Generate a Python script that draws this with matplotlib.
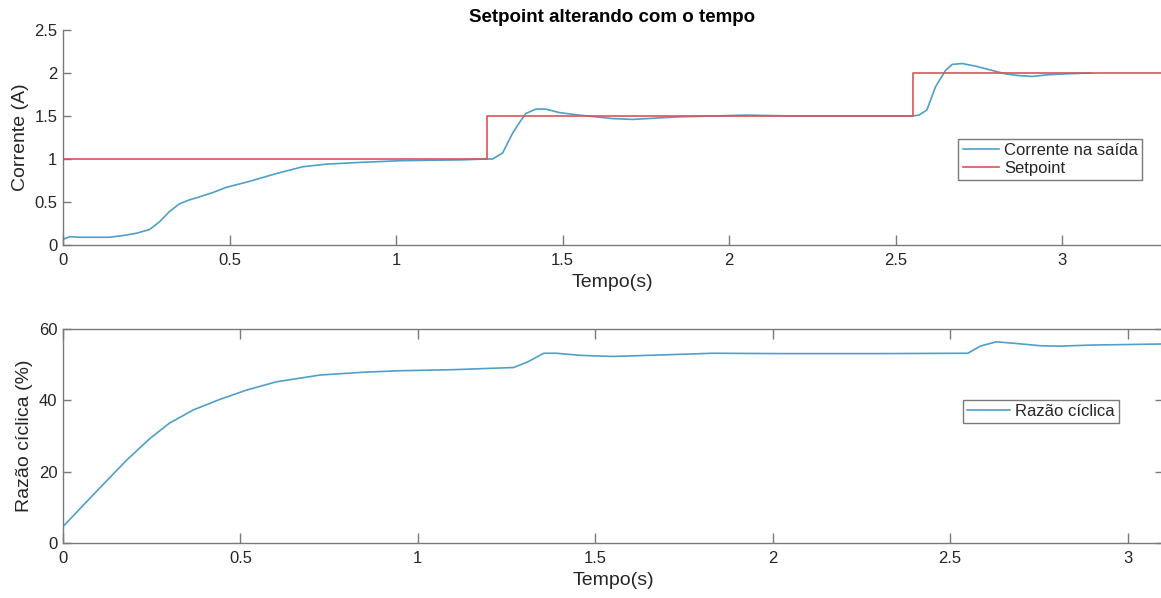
import matplotlib
matplotlib.use("Agg")
import matplotlib.pyplot as plt

plt.rcParams['font.family'] = ['Liberation Sans', 'DejaVu Sans']

# ---- data ----
cur_t = [0, 0.021, 0.05, 0.10, 0.14, 0.18, 0.22, 0.26, 0.29, 0.32, 0.35, 0.38, 0.41,
         0.45, 0.49, 0.56, 0.64, 0.72, 0.79, 0.89, 1.01, 1.10, 1.20, 1.27, 1.29, 1.32,
         1.35, 1.37, 1.39, 1.42, 1.45, 1.49, 1.55, 1.60, 1.65, 1.71, 1.80, 1.85, 1.95,
         2.05, 2.20, 2.40, 2.55, 2.57, 2.594, 2.62, 2.65, 2.67, 2.70, 2.74, 2.79, 2.83,
         2.87, 2.91, 2.96, 3.01, 3.085]
cur_v = [0.066, 0.097, 0.09, 0.09, 0.09, 0.11, 0.136, 0.18, 0.27, 0.39, 0.48, 0.525, 0.56,
         0.61, 0.67, 0.74, 0.83, 0.91, 0.94, 0.96, 0.98, 0.985, 0.99, 1.0, 1.0, 1.07,
         1.30, 1.42, 1.53, 1.58, 1.58, 1.54, 1.51, 1.49, 1.47, 1.46, 1.48, 1.49, 1.50,
         1.51, 1.50, 1.50, 1.50, 1.51, 1.57, 1.84, 2.03, 2.10, 2.11, 2.08, 2.03, 1.99,
         1.97, 1.96, 1.98, 1.99, 2.0]

sp_t = [0, 1.274, 2.551, 3.3]
sp_v = [1.0, 1.5, 2.0, 2.0]

duty_t = [0, 0.085, 0.18, 0.245, 0.30, 0.367, 0.443, 0.518, 0.602, 0.725, 0.85, 0.95,
          1.10, 1.27, 1.31, 1.355, 1.39, 1.46, 1.55, 1.74, 1.83, 2.02, 2.30, 2.55,
          2.585, 2.63, 2.68, 2.755, 2.81, 2.90, 3.1]
duty_v = [4.6, 13.5, 23.3, 29.3, 33.6, 37.3, 40.3, 42.9, 45.2, 47.1, 47.9, 48.3,
          48.6, 49.2, 50.8, 53.2, 53.2, 52.6, 52.3, 52.9, 53.2, 53.1, 53.1, 53.2,
          55.2, 56.4, 56.0, 55.3, 55.2, 55.5, 55.8]

top_xticks = [0, 0.5, 1, 1.5, 2, 2.5, 3]
top_yticks = [0, 0.5, 1, 1.5, 2, 2.5]
top_yticklabels = ['0', '0.5', '1', '1.5', '2', '2.5']
bot_xticks = [0, 0.5, 1, 1.5, 2, 2.5, 3]
bot_yticks = [0, 20, 40, 60]
xticklabels = ['0', '0.5', '1', '1.5', '2', '2.5', '3']

BLUE = '#4f9fc9'
RED = '#d9545b'
SPINE = '#7a7a7a'
TXT = '#262626'

W, H = 1161, 598
fig = plt.figure(figsize=(W / 100, H / 100), dpi=100)

def frac(l, r, t, b):
    return [l / W, 1 - b / H, (r - l) / W, (b - t) / H]

ax1 = fig.add_axes(frac(63, 1162, 30, 245))
ax2 = fig.add_axes(frac(63, 1163, 329, 543))

# ---- top ----
ax1.plot(cur_t, cur_v, color=BLUE, lw=1.2, label='Corrente na saída')
ax1.plot(sp_t, sp_v, color=RED, lw=1.2, drawstyle='steps-post', label='Setpoint')
ax1.set_xlim(0, 3.3)
ax1.set_ylim(0, 2.5)
ax1.set_xticks(top_xticks)
ax1.set_xticklabels(xticklabels)
ax1.set_yticks(top_yticks)
ax1.set_yticklabels(top_yticklabels)
ax1.spines['top'].set_visible(False)
ax1.spines['right'].set_visible(False)
ax1.set_title('Setpoint alterando com o tempo', fontsize=13.5, fontweight='bold',
              color='black', pad=6)
ax1.set_xlabel('Tempo(s)', fontsize=14, color=TXT, labelpad=4)
ax1.set_ylabel('Corrente (A)', fontsize=14, color=TXT, labelpad=4)
leg1 = ax1.legend(loc='upper right', bbox_to_anchor=(0.982, 0.493), fontsize=12,
                  frameon=True, fancybox=False, handlelength=2.2, handletextpad=0.3,
                  borderpad=0.25, labelspacing=0.15, borderaxespad=0)
leg1.get_frame().set_edgecolor(SPINE)
leg1.get_frame().set_linewidth(1.0)
leg1.get_frame().set_alpha(1)
for t in leg1.get_texts():
    t.set_color(TXT)

# ---- bottom ----
ax2.plot(duty_t, duty_v, color=BLUE, lw=1.2, label='Razão cíclica')
ax2.set_xlim(0, 3.1)
ax2.set_ylim(0, 60)
ax2.set_xticks(bot_xticks)
ax2.set_xticklabels(xticklabels)
ax2.set_yticks(bot_yticks)
ax2.set_xlabel('Tempo(s)', fontsize=14, color=TXT, labelpad=4)
ax2.set_ylabel('Razão cíclica (%)', fontsize=14, color=TXT, labelpad=4)
leg2 = ax2.legend(loc='upper right', bbox_to_anchor=(0.96, 0.668), fontsize=12,
                  frameon=True, fancybox=False, handlelength=2.6, handletextpad=0.3,
                  borderpad=0.25, borderaxespad=0)
leg2.get_frame().set_edgecolor(SPINE)
leg2.get_frame().set_linewidth(1.0)
leg2.get_frame().set_alpha(1)
for t in leg2.get_texts():
    t.set_color(TXT)

for ax in (ax1, ax2):
    for s in ax.spines.values():
        s.set_color(SPINE)
        s.set_linewidth(1.0)
    ax.tick_params(axis='both', direction='in', colors=SPINE, labelcolor=TXT,
                   labelsize=12, width=1.0)
    ax.tick_params(axis='x', length=7, pad=6)
    ax.tick_params(axis='y', length=6, pad=4)

ax2.tick_params(top=True, right=True)

fig.savefig('out.png', dpi=100)
